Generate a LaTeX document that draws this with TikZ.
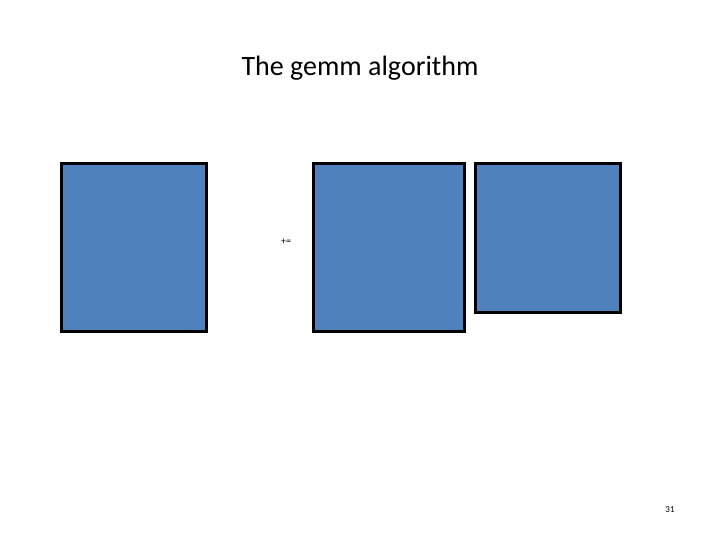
\documentclass[tikz,border=0pt]{standalone}
\usepackage{fontspec}
\setmainfont{Carlito}
\usetikzlibrary{positioning}
\definecolor{matblue}{HTML}{4F81BD}
\tikzset{matrixbox/.style={draw=black,line width=3pt,fill=matblue,anchor=north west,inner sep=0pt}}
\begin{document}
\begin{tikzpicture}[x=1pt,y=-1pt]
    \useasboundingbox (0,0) rectangle (720,540);
    \node (title) at (360,68) {\fontsize{28}{34}\selectfont The gemm algorithm};
    \node[matrixbox,minimum width=145pt,minimum height=168pt] (matC) at (60,162) {};
    \node[matrixbox,minimum width=151pt,minimum height=168pt] (matA) at (312,162) {};
    \node[matrixbox,minimum width=145pt,minimum height=149pt] (matB) at (474,162) {};
    \node (pluseq) at (286,242) {\fontsize{10}{12}\selectfont +=};
    \node (pagenum) at (670,510) {\fontsize{9}{11}\selectfont 31};
\end{tikzpicture}
\end{document}
